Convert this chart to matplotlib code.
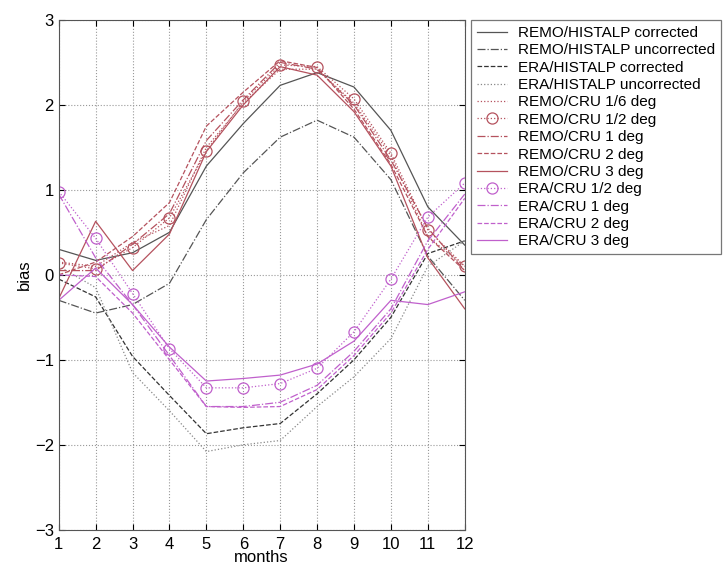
import numpy as np
import matplotlib
matplotlib.use("Agg")
import matplotlib.pyplot as plt

plt.rcParams['font.family'] = ['Liberation Sans', 'DejaVu Sans']

months = np.arange(1, 13)

# REMO / ERA against HISTALP
remo_histalp_corr = [0.30, 0.17, 0.26, 0.50, 1.28, 1.78, 2.23, 2.38, 2.21, 1.70, 0.80, 0.35]
remo_histalp_unc = [-0.30, -0.45, -0.35, -0.10, 0.65, 1.20, 1.62, 1.82, 1.62, 1.12, 0.22, -0.30]
era_histalp_corr = [-0.05, -0.26, -0.96, -1.42, -1.87, -1.80, -1.75, -1.40, -1.00, -0.50, 0.25, 0.40]
era_histalp_unc = [0.10, -0.15, -1.15, -1.60, -2.08, -2.00, -1.95, -1.55, -1.20, -0.75, 0.10, 0.40]

# REMO against CRU
remo_cru_16 = [0.15, 0.10, 0.38, 0.58, 1.50, 2.02, 2.42, 2.42, 2.02, 1.40, 0.45, 0.10]
remo_cru_12 = [0.14, 0.07, 0.32, 0.67, 1.46, 2.04, 2.47, 2.45, 2.07, 1.43, 0.53, 0.10]
remo_cru_1 = [0.05, 0.05, 0.36, 0.72, 1.58, 2.06, 2.50, 2.42, 2.00, 1.35, 0.55, 0.05]
remo_cru_2 = [0.00, 0.15, 0.45, 0.85, 1.75, 2.15, 2.52, 2.44, 1.95, 1.30, 0.45, 0.05]
remo_cru_3 = [-0.28, 0.63, 0.05, 0.48, 1.45, 2.00, 2.45, 2.35, 1.92, 1.28, 0.20, -0.40]

# ERA against CRU
era_cru_12 = [0.98, 0.43, -0.22, -0.87, -1.33, -1.33, -1.28, -1.10, -0.67, -0.05, 0.68, 1.08]
era_cru_1 = [0.95, 0.20, -0.35, -0.95, -1.55, -1.55, -1.50, -1.30, -0.90, -0.40, 0.40, 0.95]
era_cru_2 = [0.00, -0.02, -0.45, -1.00, -1.55, -1.56, -1.55, -1.35, -0.95, -0.45, 0.30, 0.90]
era_cru_3 = [-0.30, 0.08, -0.35, -0.85, -1.25, -1.22, -1.18, -1.05, -0.78, -0.30, -0.35, -0.20]

grey = '#555555'
red = '#b5525e'
purple = '#c060cc'

fig = plt.figure(figsize=(7.25, 5.69), dpi=100)
ax = fig.add_axes([0.081, 0.069, 0.56, 0.896])

ax.plot(months, remo_histalp_corr, '-', color=grey, lw=0.9, label='REMO/HISTALP corrected')
ax.plot(months, remo_histalp_unc, '-.', color=grey, lw=0.9, label='REMO/HISTALP uncorrected')
ax.plot(months, era_histalp_corr, '--', color='#333333', lw=0.9, label='ERA/HISTALP corrected')
ax.plot(months, era_histalp_unc, ':', color='#888888', lw=0.9, label='ERA/HISTALP uncorrected')
ax.plot(months, remo_cru_16, ':', color=red, lw=0.9, label='REMO/CRU 1/6 deg')
ax.plot(months, remo_cru_12, ':o', color=red, lw=0.9, ms=8, mfc='none', mew=0.9, label='REMO/CRU 1/2 deg')
ax.plot(months, remo_cru_1, '-.', color=red, lw=0.9, label='REMO/CRU 1 deg')
ax.plot(months, remo_cru_2, '--', color=red, lw=0.9, label='REMO/CRU 2 deg')
ax.plot(months, remo_cru_3, '-', color=red, lw=0.9, label='REMO/CRU 3 deg')
ax.plot(months, era_cru_12, ':o', color=purple, lw=0.9, ms=8, mfc='none', mew=0.9, label='ERA/CRU 1/2 deg')
ax.plot(months, era_cru_1, '-.', color=purple, lw=0.9, label='ERA/CRU 1 deg')
ax.plot(months, era_cru_2, '--', color=purple, lw=0.9, label='ERA/CRU 2 deg')
ax.plot(months, era_cru_3, '-', color=purple, lw=0.9, label='ERA/CRU 3 deg')

ax.set_xlim(1, 12)
ax.set_ylim(-3, 3)
ax.set_xticks(months)
ax.set_yticks(range(-3, 4))
ax.set_yticklabels(['\u22123', '\u22122', '\u22121', '0', '1', '2', '3'])
ax.grid(True, linestyle=':', color='#999999', lw=0.8)
ax.tick_params(direction='in', labelsize=12, length=4, top=True, right=True)
ax.tick_params(axis='x', pad=5)
for s in ax.spines.values():
    s.set_color('#555555')
ax.set_xlabel('months', fontsize=12, labelpad=-1)
ax.set_ylabel('bias', fontsize=12, labelpad=2)

leg = ax.legend(loc='upper left', bbox_to_anchor=(1.015, 1.0), fontsize=11,
                frameon=True, fancybox=False, edgecolor='#555555',
                handlelength=2.0, labelspacing=0.22, borderpad=0.4,
                handletextpad=0.7, borderaxespad=0)
leg.get_frame().set_linewidth(0.9)

fig.savefig('out.png', dpi=100)
